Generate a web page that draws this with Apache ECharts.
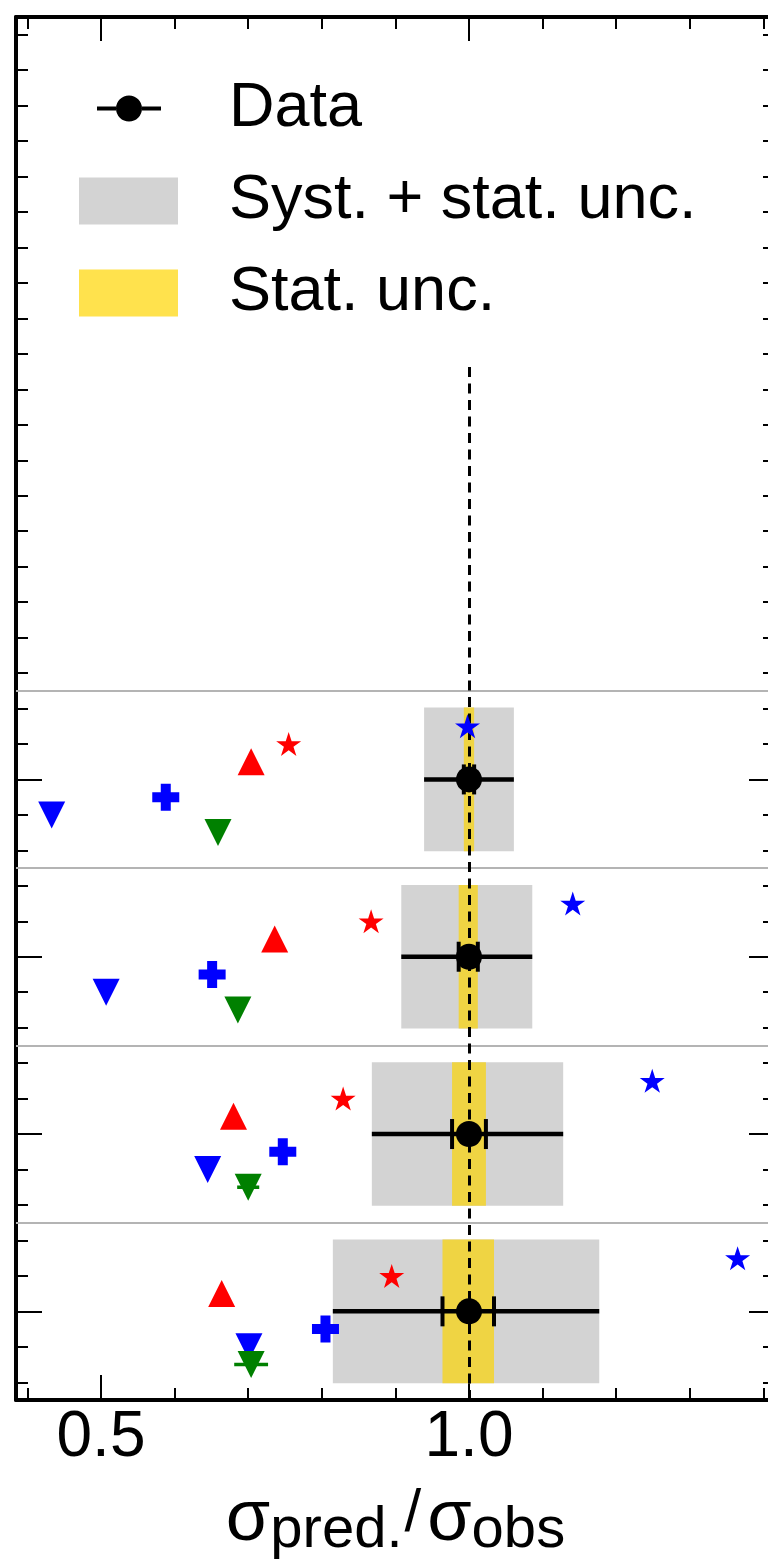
<!DOCTYPE html>
<html>
<head>
<meta charset="utf-8">
<script src="https://cdn.jsdelivr.net/npm/echarts@6/dist/echarts.min.js"></script>
<style>
  html, body { margin: 0; padding: 0; background: #ffffff; }
  #chart { width: 768px; height: 1559px; }
</style>
</head>
<body>
<div id="chart"></div>
<script>
// ---- values ----------------------------------------------------------
// measurement rows, bottom to top
const rows = [0, 1, 2, 3];

// measured ratio (normalised) with total and statistical intervals
const dataCentral = [1.0, 1.0, 1.0, 1.0];
const totalLow  = [0.815, 0.868, 0.908, 0.939];
const totalHigh = [1.177, 1.128, 1.086, 1.061];
const statLow   = [0.964, 0.977, 0.986, 0.993];
const statHigh  = [1.034, 1.023, 1.012, 1.007];

// predictions divided by observation
const predRedStar   = [0.895, 0.829, 0.867, 0.755];
const predBlueStar  = [1.365, 1.249, 1.141, 0.998];
const predRedUp     = [0.664, 0.680, 0.736, 0.704];
const predBluePlus  = [0.805, 0.747, 0.651, 0.588];
const predBlueDown  = [0.701, 0.645, 0.507, 0.433];
const predGreenDown = [0.704, 0.700, 0.686, 0.659];
const predGreenErr  = [0.023, 0.015, 0, 0];

// axis ticks and labels
const xTicksMinor = [0.4, 0.5, 0.6, 0.7, 0.8, 0.9, 1.0, 1.1, 1.2, 1.3, 1.4];
const xTicksMajor = [0.5, 1.0];
const xTickLabels = [0.5, 1.0];
const yTicksMajor = [0, 1, 2, 3];
const rowSeparators = [0.5, 1.5, 2.5, 3.5];
const refValue = 1.0;
const refLineTop = 5.33;

// ---- layout / style constants ---------------------------------------
const X_MIN = 0.3845, X_MAX = 1.4158;
const Y_MIN = -0.5, Y_MAX = 7.3;
const BOX_HALF = 0.405;
const OFFSET = { blueStar: 0.3, redStar: 0.2, redUp: 0.1, bluePlus: -0.1, blueDown: -0.2, greenDown: -0.3 };
const FONT = "'Liberation Sans', Arial, Helvetica, sans-serif";
const GRAY = '#d3d3d3', YELLOW = '#efd443', YELLOW_KEY = '#ffe24d';
const RED = '#ff0000', BLUE = '#0000ff', GREEN = '#008000';

const yTicksMinor = [];
for (let k = -2; k <= 36; k++) yTicksMinor.push(Math.round(k * 2) / 10);

const STAR = 'path://M50,0 L61.23,34.55 L97.55,34.55 L68.16,55.9 L79.39,90.45 L50,69.1 L20.61,90.45 L31.84,55.9 L2.45,34.55 L38.77,34.55 Z';
const PLUS = 'path://M8.5,0 H18.5 V8.5 H27 V18.5 H18.5 V27 H8.5 V18.5 H0 V8.5 H8.5 Z';
const DATA_KEY = 'path://M0,11 H19 V15 H0 Z M45,11 H64 V15 H45 Z M32,0 A13,13 0 1 1 32,26 A13,13 0 1 1 32,0 Z';

// ---- axes -------------------------------------------------------------
function xAxisDef(position, ticks, len, withLine, withLabels) {
  const ax = {
    type: 'value', gridIndex: 0, position, min: X_MIN, max: X_MAX,
    axisLine: { show: withLine, onZero: false, lineStyle: { color: '#000', width: 4 } },
    axisTick: { show: true, inside: true, length: len, customValues: ticks, lineStyle: { color: '#000', width: 2 } },
    axisLabel: { show: false },
    splitLine: { show: false }
  };
  if (withLabels) {
    ax.axisLabel = {
      show: true, customValues: xTickLabels, formatter: v => v.toFixed(1),
      fontSize: 64, fontFamily: FONT, color: '#000', margin: 6
    };
    ax.name = '{m|σ}{s|pred.}{g|/}{m|σ}{s|obs}';
    ax.nameLocation = 'middle';
    ax.nameGap = 84;
    ax.nameTextStyle = {
      fontFamily: FONT, color: '#000',
      rich: {
        m: { fontSize: 72, lineHeight: 72, verticalAlign: 'top', fontFamily: FONT, color: '#000' },
        g: { fontSize: 60, lineHeight: 60, padding: [0, 6, 0, 2], verticalAlign: 'top', fontFamily: FONT, color: '#000' },
        s: { fontSize: 58, lineHeight: 58, padding: [18, 0, 0, 0], verticalAlign: 'top', fontFamily: FONT, color: '#000' }
      }
    };
  }
  return ax;
}
function yAxisDef(position, ticks, len, withLine) {
  return {
    type: 'value', gridIndex: 0, position, min: Y_MIN, max: Y_MAX,
    axisLine: { show: withLine, onZero: false, lineStyle: { color: '#000', width: 4 } },
    axisTick: { show: true, inside: true, length: len, customValues: ticks, lineStyle: { color: '#000', width: 2 } },
    axisLabel: { show: false },
    splitLine: { show: false }
  };
}

// ---- renderers --------------------------------------------------------
function boxRenderer(params, api) {
  const r = api.value(0);
  const a = api.coord([api.value(1), r + BOX_HALF]);
  const b = api.coord([api.value(2), r - BOX_HALF]);
  return { type: 'rect', shape: { x: a[0], y: a[1], width: b[0] - a[0], height: b[1] - a[1] },
           style: { fill: api.visual('color') } };
}
function dataBarRenderer(params, api) {
  const y = api.value(0);
  const lo = api.coord([api.value(1), y]);
  const hi = api.coord([api.value(2), y]);
  const sl = api.coord([api.value(3), y]);
  const sh = api.coord([api.value(4), y]);
  return { type: 'group', children: [
    { type: 'line', shape: { x1: lo[0], y1: lo[1], x2: hi[0], y2: hi[1] }, style: { stroke: '#000', lineWidth: 4.5 } },
    { type: 'line', shape: { x1: sl[0], y1: sl[1] - 15, x2: sl[0], y2: sl[1] + 15 }, style: { stroke: '#000', lineWidth: 4 } },
    { type: 'line', shape: { x1: sh[0], y1: sh[1] - 15, x2: sh[0], y2: sh[1] + 15 }, style: { stroke: '#000', lineWidth: 4 } }
  ] };
}
function hErrRenderer(params, api) {
  const e = api.value(2);
  if (!e) return null;
  const y = api.value(0), v = api.value(1);
  const a = api.coord([v - e, y]);
  const b = api.coord([v + e, y]);
  return { type: 'line', shape: { x1: a[0], y1: a[1], x2: b[0], y2: b[1] },
           style: { stroke: api.visual('color'), lineWidth: 3.5 } };
}

function markerSeries(name, values, offset, symbol, size, color, rotate) {
  return {
    name, type: 'scatter', xAxisIndex: 0, yAxisIndex: 0, z: 6,
    symbol, symbolSize: size, symbolRotate: rotate || 0, symbolKeepAspect: false,
    itemStyle: { color, opacity: 1 },
    emphasis: { disabled: true },
    data: rows.map((r, i) => [values[i], r + offset])
  };
}

// ---- chart ------------------------------------------------------------
const chart = echarts.init(document.getElementById('chart'), null, { renderer: 'canvas' });

const option = {
  animation: false,
  backgroundColor: '#ffffff',
  grid: { left: 16, top: 17, width: 759, height: 1383, containLabel: false, outerBoundsMode: 'none' },
  xAxis: [
    xAxisDef('bottom', xTicksMinor, 12, true, true),
    xAxisDef('bottom', xTicksMajor, 25, false, false),
    xAxisDef('top', xTicksMinor, 12, true, false),
    xAxisDef('top', xTicksMajor, 24, false, false)
  ],
  yAxis: [
    yAxisDef('left', yTicksMinor, 12, true),
    yAxisDef('left', yTicksMajor, 26, false),
    yAxisDef('right', yTicksMinor, 12, true),
    yAxisDef('right', yTicksMajor, 26, false)
  ],
  legend: [
    {
      data: [{ name: 'Data', icon: DATA_KEY, itemStyle: { color: '#000' } }],
      left: 97, top: 77, padding: 0, itemWidth: 64, itemHeight: 26, selectedMode: false,
      textStyle: { fontSize: 63, fontFamily: FONT, color: '#000', lineHeight: 26, padding: [0, 0, 0, 63] }
    },
    {
      data: [
        { name: 'Syst. + stat. unc.', icon: 'rect', itemStyle: { color: GRAY } },
        { name: 'Stat. unc.', icon: 'rect', itemStyle: { color: YELLOW_KEY } }
      ],
      orient: 'vertical', left: 79, top: 169.5, padding: 0, itemWidth: 99, itemHeight: 47, itemGap: 29,
      selectedMode: false,
      textStyle: { fontSize: 63, fontFamily: FONT, color: '#000', lineHeight: 47, padding: [0, 0, 0, 46] }
    }
  ],
  series: [
    {
      name: 'Syst. + stat. unc.', type: 'custom', z: 1, renderItem: boxRenderer,
      itemStyle: { color: GRAY },
      encode: { x: [1, 2], y: 0 },
      data: rows.map((r, i) => [r, totalLow[i], totalHigh[i]]),
      markLine: {
        silent: true, symbol: ['none', 'none'], z: 2, label: { show: false },
        lineStyle: { color: '#b4b4b4', width: 2, type: 'solid' },
        emphasis: { disabled: true },
        data: rowSeparators.map(v => ({ yAxis: v }))
      }
    },
    {
      name: 'Stat. unc.', type: 'custom', z: 1.5, renderItem: boxRenderer,
      itemStyle: { color: YELLOW },
      encode: { x: [1, 2], y: 0 },
      data: rows.map((r, i) => [r, statLow[i], statHigh[i]]),
      markLine: {
        silent: true, symbol: ['none', 'none'], z: 3, label: { show: false },
        lineStyle: { color: '#000', width: 3, type: [10, 6.5] },
        emphasis: { disabled: true },
        data: [[{ coord: [refValue, Y_MIN] }, { coord: [refValue, refLineTop] }]]
      }
    },
    {
      name: 'Data bars', type: 'custom', z: 4, renderItem: dataBarRenderer,
      encode: { x: [1, 2, 3, 4], y: 0 },
      data: rows.map((r, i) => [r, totalLow[i], totalHigh[i], statLow[i], statHigh[i]])
    },
    {
      name: 'Data', type: 'scatter', z: 5, symbol: 'circle', symbolSize: 26,
      itemStyle: { color: '#000', opacity: 1 }, emphasis: { disabled: true },
      data: rows.map((r, i) => [dataCentral[i], r])
    },
    markerSeries('Model 1', predBlueDown, OFFSET.blueDown, 'triangle', [27, 27], BLUE, 180),
    markerSeries('Model 2', predGreenDown, OFFSET.greenDown, 'triangle', [27, 27], GREEN, 180),
    {
      name: 'Model 2 unc.', type: 'custom', z: 6, renderItem: hErrRenderer,
      itemStyle: { color: GREEN },
      encode: { x: 1, y: 0 },
      data: rows.map((r, i) => [r + OFFSET.greenDown, predGreenDown[i], predGreenErr[i]])
    },
    markerSeries('Model 3', predBluePlus, OFFSET.bluePlus, PLUS, [27, 27], BLUE),
    markerSeries('Model 4', predRedUp, OFFSET.redUp, 'triangle', [27, 27], RED),
    markerSeries('Model 5', predRedStar, OFFSET.redStar, STAR, [25, 24], RED),
    markerSeries('Model 6', predBlueStar, OFFSET.blueStar, STAR, [25, 24], BLUE)
  ]
};

chart.setOption(option);
</script>
</body>
</html>
